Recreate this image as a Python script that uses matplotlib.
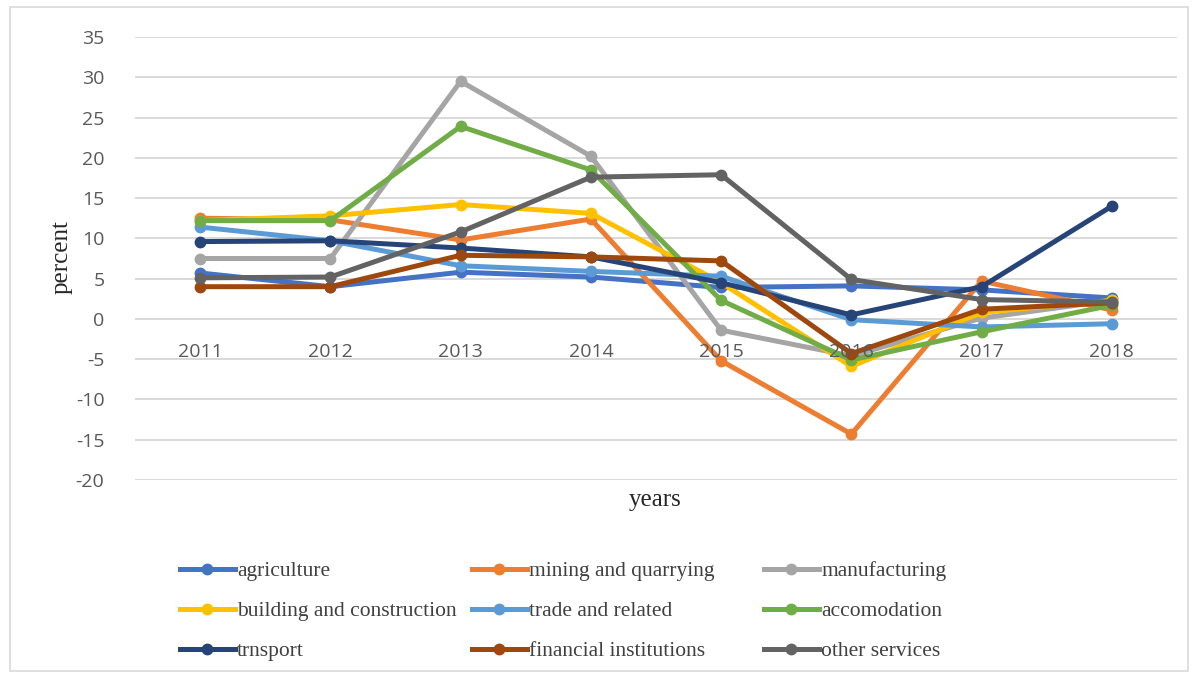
import matplotlib
matplotlib.use("Agg")
import matplotlib.pyplot as plt
from matplotlib.patches import Rectangle

plt.rcParams["axes.unicode_minus"] = False

years = ["2011", "2012", "2013", "2014", "2015", "2016", "2017", "2018"]

agriculture = [5.7, 4.0, 5.8, 5.2, 3.9, 4.1, 3.6, 2.6]
mining = [12.5, 12.3, 9.8, 12.4, -5.2, -14.3, 4.7, 1.1]
manufacturing = [7.5, 7.5, 29.5, 20.2, -1.4, -4.6, 0.1, 2.3]
building = [12.2, 12.8, 14.2, 13.1, 4.5, -5.9, 0.8, 2.3]
trade = [11.4, 9.7, 6.6, 5.9, 5.3, -0.1, -1.0, -0.6]
accomodation = [12.2, 12.2, 23.9, 18.5, 2.3, -5.1, -1.6, 1.7]
trnsport = [9.6, 9.7, 8.8, 7.7, 4.5, 0.5, 4.0, 14.0]
financial = [4.0, 4.0, 7.9, 7.7, 7.2, -4.3, 1.2, 2.0]
other = [5.1, 5.2, 10.8, 17.6, 17.9, 4.9, 2.4, 2.1]

labels = ["agriculture", "mining and quarrying", "manufacturing",
          "building and construction", "trade and related", "accomodation",
          "trnsport", "financial institutions", "other services"]
series = [agriculture, mining, manufacturing, building, trade, accomodation,
          trnsport, financial, other]
colors = ["#4472C4", "#ED7D31", "#A5A5A5", "#FFC000", "#5B9BD5", "#70AD47",
          "#264478", "#9E480E", "#636363"]

fig = plt.figure(figsize=(11.98, 6.76), dpi=100)
fig.patches.append(Rectangle((10 / 1198, 5 / 676), 1178 / 1198, 664 / 676,
                             transform=fig.transFigure, fill=False,
                             edgecolor="#D9D9D9", lw=1.2))

ax = fig.add_axes([135 / 1198, 1 - 480 / 676, 1042 / 1198, 443 / 676])

x = list(range(len(years)))
handles = []
for i, (vals, lab, col) in enumerate(zip(series, labels, colors)):
    h, = ax.plot(x, vals, color=col, lw=3.6, marker="o", ms=7.5,
                 solid_joinstyle="round", label=lab, zorder=3 + i)
    handles.append(h)

ax.set_xlim(-0.5, len(years) - 0.5)
ax.set_ylim(-20, 35)
ax.set_yticks(range(-20, 36, 5))
ax.grid(axis="y", color="#D9D9D9", lw=1.4)
ax.set_axisbelow(True)
# year labels sit on top of the lines
ax.xaxis.set_zorder(20)
for s in ["top", "right", "left"]:
    ax.spines[s].set_visible(False)
ax.spines["bottom"].set_position(("data", 0))
ax.spines["bottom"].set_color("none")

ax.set_xticks(x)
ax.set_xticklabels(years)
ax.tick_params(axis="x", length=0, pad=17, labelsize=14, labelcolor="#595959")
ax.tick_params(axis="y", length=0, pad=22, labelsize=14, labelcolor="#595959")
for t in ax.get_xticklabels() + ax.get_yticklabels():
    t.set_fontfamily("Open Sans")

serif = "Liberation Serif"
fig.text(655 / 1198, 1 - 500 / 676, "years", ha="center", va="center",
         fontsize=18, family=serif, color="#262626")
fig.text(62 / 1198, 1 - 257 / 676, "percent", ha="center", va="center",
         rotation=90, fontsize=18, family=serif, color="#262626")

col_x = [180, 472, 764]
for c in range(3):
    hs = [handles[r * 3 + c] for r in range(3)]
    leg = fig.legend(hs, [h.get_label() for h in hs], loc="upper left",
                     bbox_to_anchor=(col_x[c] / 1198, 1 - 561 / 676),
                     frameon=False, ncol=1, handlelength=2.55,
                     handletextpad=0.1, labelspacing=0.93, borderpad=0,
                     borderaxespad=0, prop={"family": serif, "size": 15.5})
    for t in leg.get_texts():
        t.set_color("#404040")

fig.savefig("out.png", dpi=100)
